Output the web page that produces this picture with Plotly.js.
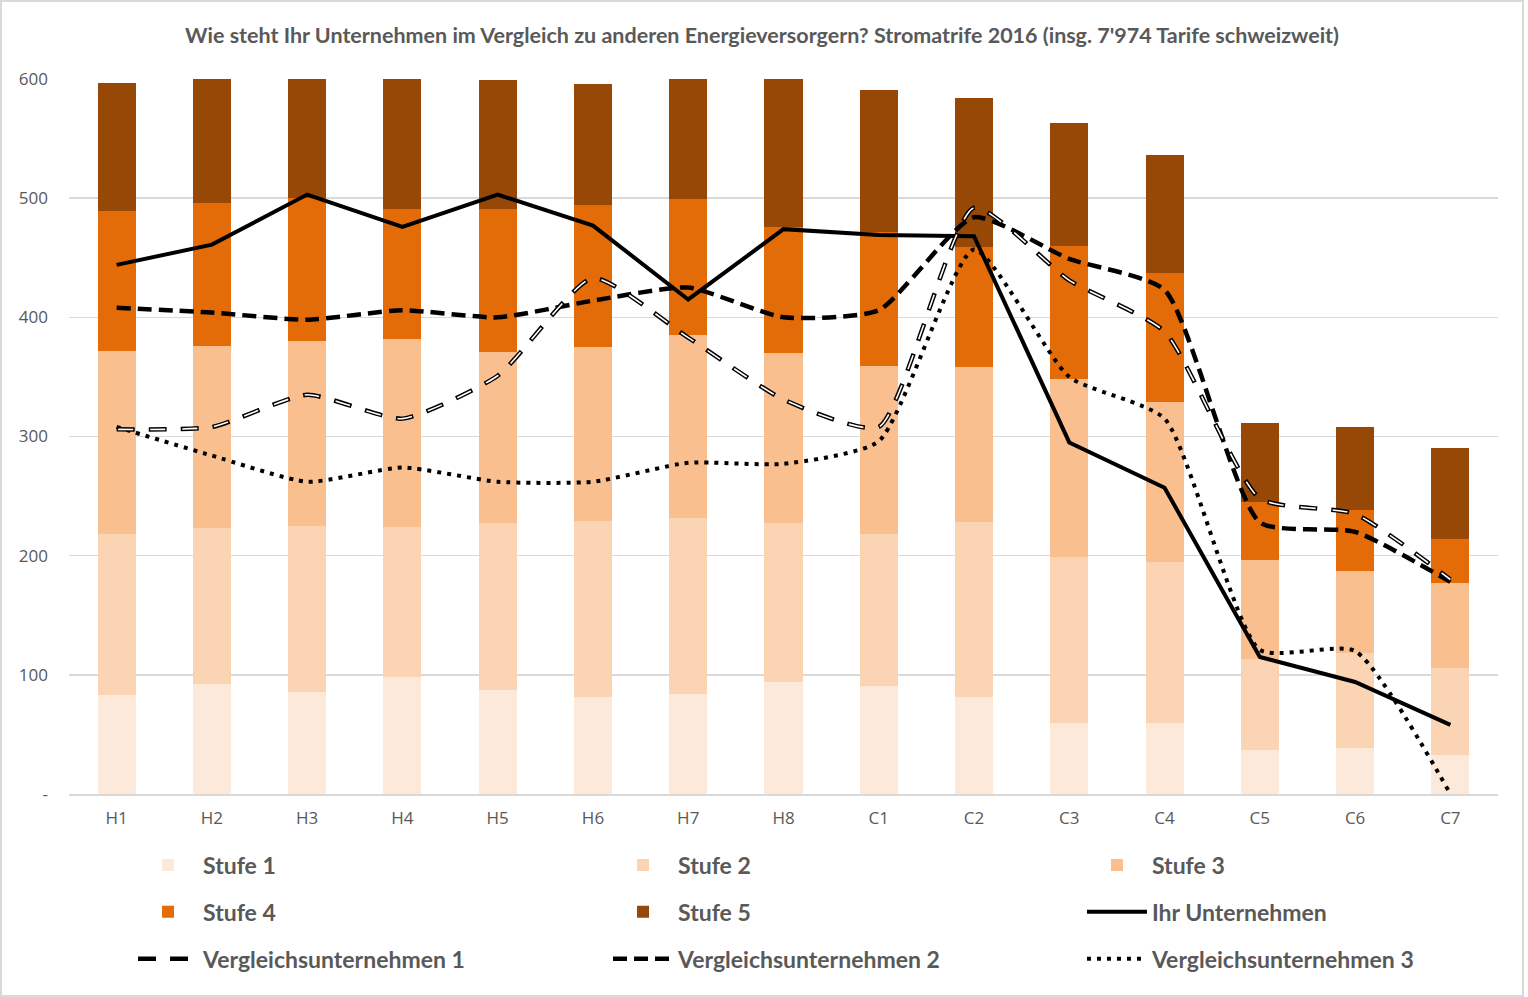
<!DOCTYPE html>
<html>
<head>
<meta charset="utf-8">
<script src="https://cdn.plot.ly/plotly-3.0.1.min.js"></script>
<style>
  html, body { margin: 0; padding: 0; background: #ffffff; }
  #frame { position: absolute; left: 0; top: 0; width: 1520px; height: 993px; border: 2px solid #d9d9d9; background: #fff; }
  #chart { width: 1520px; height: 993px; }
</style>
</head>
<body>
<div id="frame"><div id="chart"></div></div>
<script>
const categories = ['H1','H2','H3','H4','H5','H6','H7','H8','C1','C2','C3','C4','C5','C6','C7'];

const stufe1 = [83, 92, 86, 98, 87, 81, 84, 94, 91, 81, 60, 60, 37, 39, 33];
const stufe2 = [135, 131, 139, 126, 140, 148, 148, 133, 127, 147, 139, 135, 76, 79, 73];
const stufe3 = [154, 153, 155, 158, 144, 146, 153, 143, 141, 130, 149, 134, 83, 69, 71];
const stufe4 = [117, 120, 120, 109, 120, 119, 114, 106, 113, 101, 112, 108, 49, 51, 37];
const stufe5 = [108, 105, 101, 109, 108, 102, 101, 124, 119, 125, 103, 99, 66, 70, 76];

const ihrUnternehmen = [444, 461, 503, 476, 503, 477, 415, 474, 469, 468, 295, 257, 115, 94, 58];
const vergleich1 = [306, 308, 335, 315, 351, 433, 383, 331, 308, 492, 431, 388, 248, 235, 180];
const vergleich2 = [408, 404, 398, 406, 400, 414, 425, 400, 406, 484, 449, 423, 228, 220, 178];
const vergleich3 = [308, 284, 262, 274, 262, 262, 278, 277, 296, 457, 350, 315, 121, 120, 0];

const yTickVals = [0, 100, 200, 300, 400, 500, 600];
const yTickText = ['-', '100', '200', '300', '400', '500', '600'];

const titleText = "Wie steht Ihr Unternehmen im Vergleich zu anderen Energieversorgern? Stromatrife 2016 (insg. 7'974 Tarife schweizweit)";

const barColors = ['#FDE9D9', '#FBD4B4', '#FABF8F', '#E36C09', '#974806'];

function bar(name, vals, color, legend) {
  return { type: 'bar', x: categories, y: vals, name: name, marker: { color: color, line: { width: 0 } },
           width: 0.4, legend: legend, legendgroup: name, hoverinfo: 'skip' };
}
function line(name, vals, lineStyle, legend) {
  return { type: 'scatter', mode: 'lines', x: categories, y: vals, name: name, line: lineStyle,
           legend: legend, legendgroup: name, hoverinfo: 'skip' };
}

const SMOOTH = 0.55;
const traces = [
  bar('Stufe 1', stufe1, barColors[0], 'legend'),
  bar('Stufe 2', stufe2, barColors[1], 'legend2'),
  bar('Stufe 3', stufe3, barColors[2], 'legend3'),
  bar('Stufe 4', stufe4, barColors[3], 'legend'),
  bar('Stufe 5', stufe5, barColors[4], 'legend2'),
  line('Ihr Unternehmen', ihrUnternehmen, { color: '#000000', width: 4 }, 'legend3'),
  line('Vergleichsunternehmen 1', vergleich1, { color: '#000000', width: 4.5, dash: '18px,14px', shape: 'spline', smoothing: SMOOTH }, 'legend'),
  line('Vergleichsunternehmen 2', vergleich2, { color: '#000000', width: 4.5, dash: '14px,7px', shape: 'spline', smoothing: SMOOTH }, 'legend2'),
  line('Vergleichsunternehmen 3', vergleich3, { color: '#000000', width: 4, dash: '4px,6px', shape: 'spline', smoothing: SMOOTH }, 'legend3'),
  { type: 'scatter', mode: 'lines', x: categories, y: vergleich1, name: 'Vergleichsunternehmen 1 (innen)',
    line: { color: '#ffffff', width: 1.6, dash: '0px,1.5px,15px,15.5px', shape: 'spline', smoothing: SMOOTH }, showlegend: false, hoverinfo: 'skip' }
];

const legendFont = { family: 'Lato, "Open Sans", sans-serif', size: 23, color: '#595959', weight: 'bold' };
function legendCol(x) {
  return { orientation: 'v', x: x, xref: 'container', xanchor: 'left', y: 0.0836, yref: 'container', yanchor: 'middle',
           traceorder: 'grouped', tracegroupgap: 14, font: legendFont, bgcolor: 'rgba(0,0,0,0)', borderwidth: 0, itemwidth: 60 };
}

const layout = {
  width: 1520, height: 993,
  margin: { l: 67, r: 24, t: 77, b: 201, autoexpand: false },
  paper_bgcolor: '#ffffff', plot_bgcolor: '#ffffff',
  barmode: 'stack', bargap: 0.6,
  title: { text: titleText, x: 0.5, xref: 'container', xanchor: 'center', y: 0.966, yref: 'container', yanchor: 'middle',
           font: { family: 'Lato, "Open Sans", sans-serif', size: 21.5, color: '#595959', weight: 'bold' } },
  xaxis: { type: 'category', tickfont: { family: '"Open Sans", sans-serif', size: 17, color: '#595959' },
           showgrid: false, showline: true, linecolor: '#d9d9d9', linewidth: 1.5, ticks: '', ticklabelstandoff: 8,
           fixedrange: true, automargin: false },
  yaxis: { range: [0, 600], tickvals: yTickVals, ticktext: yTickText,
           tickfont: { family: '"Open Sans", sans-serif', size: 17, color: '#595959' },
           gridcolor: '#d9d9d9', gridwidth: 1.5, zeroline: false, showline: false, ticks: '',
           ticklabelstandoff: 20, fixedrange: true, automargin: false },
  legend: legendCol(0.0862),
  legend2: legendCol(0.3987),
  legend3: legendCol(0.7105),
  hovermode: false,
  showlegend: true
};

Plotly.newPlot('chart', traces, layout, { displayModeBar: false, staticPlot: true });
</script>
</body>
</html>
